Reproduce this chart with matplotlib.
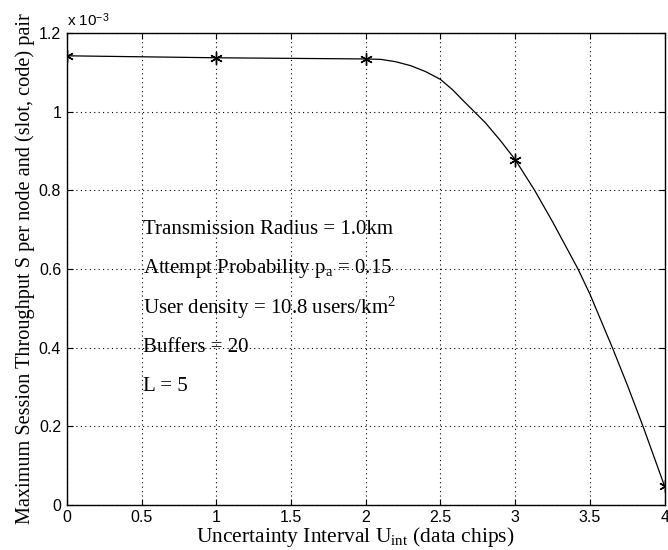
import numpy as np
import matplotlib
matplotlib.use('Agg')
import matplotlib.pyplot as plt
from matplotlib.ticker import FuncFormatter

plt.rcParams['mathtext.fontset'] = 'custom'
plt.rcParams['mathtext.rm'] = 'Liberation Serif'
plt.rcParams['mathtext.it'] = 'Liberation Serif:italic'
plt.rcParams['mathtext.sf'] = 'Liberation Sans'

# throughput values in units of 1e-3
u_marks = [0, 1, 2, 3, 4]
s_marks = [1.142, 1.137, 1.134, 0.878, 0.047]

curve_u = [0, 1, 2, 2.1, 2.2, 2.3, 2.4, 2.5, 2.58, 2.66, 2.8, 2.9, 3, 3.13,
           3.25, 3.42, 3.5, 3.65, 3.75, 3.855, 4]
curve_s = [1.142, 1.137, 1.134, 1.133, 1.127, 1.117, 1.102, 1.082, 1.056,
           1.025, 0.972, 0.927, 0.878, 0.8, 0.72, 0.6, 0.536, 0.4, 0.305,
           0.2, 0.047]

x_ticks = [0, 0.5, 1, 1.5, 2, 2.5, 3, 3.5, 4]
y_ticks = [0, 0.2, 0.4, 0.6, 0.8, 1.0, 1.2]

notes = ['Transmission Radius = 1.0km',
         r'Attempt Probability p$_{\rm a}$ = 0.15',
         r'User density = 10.8 users/km$^{2}$',
         'Buffers = 20',
         'L = 5']
note_y = [0.7, 0.6, 0.5, 0.4, 0.3]

serif = ['Liberation Serif', 'DejaVu Serif']
sans = ['Liberation Sans', 'DejaVu Sans']

fig = plt.figure(figsize=(6.68, 5.5), dpi=100)
ax = fig.add_axes([0.100, 0.082, 0.895, 0.858])

ax.plot(curve_u, curve_s, '-', color='black', linewidth=0.9)
ax.plot(u_marks, s_marks, linestyle='none', marker=(6, 2, 0), color='black',
        markersize=9, markeredgewidth=1.0)

ax.set_xlim(0, 4)
ax.set_ylim(0, 1.2)
ax.set_xticks(x_ticks)
ax.set_yticks(y_ticks)
fmt = FuncFormatter(lambda v, p: '%g' % v)
ax.xaxis.set_major_formatter(fmt)
ax.yaxis.set_major_formatter(fmt)
ax.tick_params(direction='in', top=True, right=True, length=4, width=0.8,
               labelsize=11.5, pad=4)
for lab in ax.get_xticklabels() + ax.get_yticklabels():
    lab.set_family(sans)
ax.grid(True, linestyle=(0, (1, 3)), color='black', linewidth=0.8)
for sp in ax.spines.values():
    sp.set_linewidth(1.0)

ax.text(0.0, 1.008, r'x 10$^{\mathsf{-3}}$', transform=ax.transAxes,
        ha='left', va='bottom', fontsize=11, family=sans)

for t, y in zip(notes, note_y):
    ax.text(0.51, y, t, ha='left', va='center', fontsize=15, family=serif)

ax.set_xlabel(r'Uncertainty Interval U$_{\rm int}$ (data chips)',
              fontsize=15.5, family=serif, labelpad=0)
ax.xaxis.label.set_x(0.482)
ax.set_ylabel('Maximum Session Throughput S per node and (slot, code) pair',
              fontsize=14.6, family=serif, labelpad=3)

fig.savefig('out.png', dpi=100)
